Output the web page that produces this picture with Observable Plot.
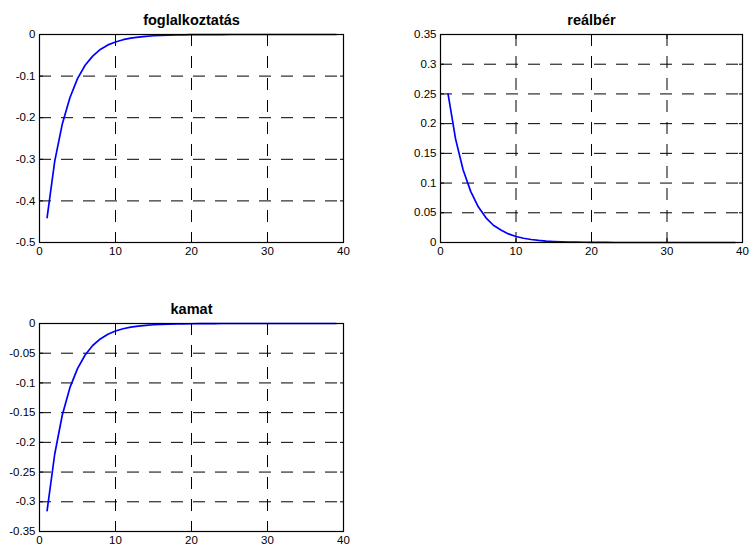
<!DOCTYPE html>
<html><head><meta charset="utf-8">
<script src="https://cdn.jsdelivr.net/npm/d3@7"></script>
<script src="https://cdn.jsdelivr.net/npm/@observablehq/plot@0.6"></script>
<style>
body{margin:0;background:#fff;}
#wrap{position:relative;width:752px;height:545px;overflow:hidden;background:#fff;}
.panel{position:absolute;}
</style></head><body><div id="wrap"></div>
<script>
const periods = [1,2,3,4,5,6,7,8,9,10,11,12,13,14,15,16,17,18,19,20,21,22,23,24,25,26,27,28,29,30,31,32,33,34,35,36,37,38,39];

const foglalkoztatas = [-0.44,-0.305,-0.215,-0.152,-0.106,-0.074,-0.052,-0.036,-0.025,-0.018,-0.0125,-0.0088,-0.0062,-0.0043,-0.003,-0.0021,-0.0015,-0.001,-0.0007,-0.0005,-0.0004,-0.0003,-0.0002,-0.0001,0,0,0,0,0,0,0,0,0,0,0,0,0,0,0];
const realber = [0.25,0.174,0.122,0.086,0.06,0.042,0.029,0.021,0.0145,0.0101,0.0071,0.005,0.0035,0.0024,0.0017,0.0012,0.0008,0.0006,0.0004,0.0003,0.0002,0.0001,0,0,0,0,0,0,0,0,0,0,0,0,0,0,0,0,0];
const kamat = [-0.315,-0.22,-0.154,-0.108,-0.076,-0.053,-0.037,-0.026,-0.018,-0.0127,-0.0089,-0.0062,-0.0044,-0.003,-0.0021,-0.0015,-0.001,-0.0007,-0.0005,-0.0004,-0.0003,-0.0002,-0.0001,0,0,0,0,0,0,0,0,0,0,0,0,0,0,0,0];

const xTicks = [0,10,20,30,40];
const yTicks1 = [-0.5,-0.4,-0.3,-0.2,-0.1,0];
const yTicks2 = [0,0.05,0.1,0.15,0.2,0.25,0.3,0.35];
const yTicks3 = [-0.35,-0.3,-0.25,-0.2,-0.15,-0.1,-0.05,0];

const titles = ["foglalkoztatás","reálbér","kamat"];

const fmt = d => String(d);

function panel({title, values, yTicks, left, top, width, height, mL, mR, mT, mB}) {
  const data = periods.map((p,i) => ({t:p, v:values[i]}));
  const yDom = [yTicks[0], yTicks[yTicks.length-1]];
  const dash = {stroke:"black", strokeOpacity:1, strokeDasharray:"12,10", strokeWidth:1};
  const chart = Plot.plot({
    width, height,
    marginLeft:mL, marginRight:mR, marginTop:mT, marginBottom:mB,
    x:{domain:[0,40], label:null},
    y:{domain:yDom, label:null},
    style:{fontFamily:"'Liberation Sans', Arial, sans-serif", fontSize:"11.5px", background:"white", color:"black", overflow:"visible"},
    marks:[
      Plot.gridX(xTicks.slice(1,-1), dash),
      Plot.gridY(yTicks.slice(1,-1), dash),
      Plot.line(data, {x:"t", y:"v", stroke:"#0000ff", strokeWidth:1.7}),
      Plot.frame({stroke:"black", strokeWidth:1.2}),
      Plot.axisX(xTicks, {anchor:"bottom", tickSize:-4, tickFormat:()=>"", label:null}),
      Plot.axisX(xTicks, {anchor:"top", tickSize:-4, tickFormat:()=>"", label:null}),
      Plot.axisY(yTicks, {anchor:"left", tickSize:-4, tickFormat:()=>"", label:null}),
      Plot.axisY(yTicks, {anchor:"right", tickSize:-4, tickFormat:()=>"", label:null}),
      Plot.axisX(xTicks, {anchor:"bottom", tickSize:0, tickPadding:4, tickFormat:fmt, label:null}),
      Plot.axisY(yTicks, {anchor:"left", tickSize:0, tickPadding:4, tickFormat:fmt, label:null}),
      Plot.text([title], {frameAnchor:"top", lineAnchor:"bottom", dy:-10, fontWeight:"bold", fontSize:14.5})
    ]
  });
  chart.classList.add("panel");
  chart.style.left = left + "px";
  chart.style.top = top + "px";
  document.getElementById("wrap").appendChild(chart);
}

panel({title:titles[0], values:foglalkoztatas, yTicks:yTicks1, left:0, top:0, width:360, height:262, mL:39, mR:17, mT:34, mB:20});
panel({title:titles[1], values:realber, yTicks:yTicks2, left:390, top:0, width:362, height:262, mL:50, mR:10, mT:34, mB:20});
panel({title:titles[2], values:kamat, yTicks:yTicks3, left:0, top:290, width:360, height:255, mL:39, mR:17, mT:33, mB:14});
</script>
</body></html>
